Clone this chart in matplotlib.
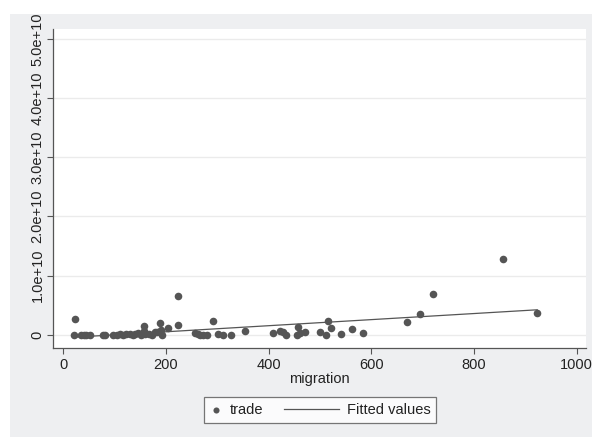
import numpy as np
import matplotlib
matplotlib.use("Agg")
import matplotlib.pyplot as plt
from matplotlib.patches import Rectangle
from matplotlib.lines import Line2D
from matplotlib.legend_handler import HandlerBase

# migration (x) and trade (y, in units of 1e10)
migration = [20, 23, 35, 40, 44, 52, 78, 82, 97, 104, 110, 117, 123, 130, 135,
             140, 146, 152, 157, 158, 160, 167, 172, 178, 183, 188, 190, 192,
             204, 223, 223, 257, 262, 266, 272, 279, 292, 302, 311, 326, 353,
             408, 422, 428, 433, 455, 458, 461, 470, 500, 511, 516, 521, 541,
             562, 584, 669, 694, 721, 856, 923]
trade_e10 = [0.0, 0.26, 0.0, 0.0, 0.0, 0.0, 0.0, 0.0, 0.0, 0.0, 0.01, 0.0, 0.01,
             0.02, 0.0, 0.01, 0.03, 0.0, 0.14, 0.06, 0.01, 0.02, 0.0, 0.04, 0.05,
             0.2, 0.08, 0.0, 0.12, 0.66, 0.17, 0.03, 0.01, 0.0, 0.0, 0.0, 0.24,
             0.01, 0.0, 0.0, 0.06, 0.03, 0.07, 0.04, 0.0, 0.0, 0.13, 0.03, 0.05,
             0.05, 0.0, 0.24, 0.12, 0.02, 0.09, 0.03, 0.21, 0.35, 0.69, 1.28, 0.36]

xticks = [0, 200, 400, 600, 800, 1000]
yticks = [0, 1e10, 2e10, 3e10, 4e10, 5e10]
ylabels = ["0", "1.0e+10", "2.0e+10", "3.0e+10", "4.0e+10", "5.0e+10"]

x = np.array(migration, dtype=float)
y = np.array(trade_e10) * 1e10

# linear fit like Stata's lfit
b, a = np.polyfit(x, y, 1)
xf = np.array([x.min(), x.max()])
yf = a + b * xf

plt.rcParams['font.family'] = ['Liberation Sans', 'DejaVu Sans']
dark = '#555555'
fs = 10.5

fig = plt.figure(figsize=(5.92, 4.37), dpi=100)
fig.patch.set_facecolor('white')
fig.patches.append(Rectangle((10 / 592, 0), 1, (437 - 14) / 437,
                             transform=fig.transFigure, facecolor='#eeeff1',
                             edgecolor='none', zorder=-10))

ax = fig.add_axes([53 / 592, (437 - 348) / 437, 533 / 592, 319 / 437])
ax.set_facecolor('white')

ax.scatter(x, y, s=30, color=dark, linewidths=0, zorder=3, label='trade')
ax.plot(xf, yf, color=dark, lw=0.9, zorder=2, label='Fitted values')

ax.set_xlim(-20, 1018)
ax.set_ylim(-0.225e10, 5.17e10)
ax.set_xticks(xticks)
ax.set_yticks(yticks)
ax.set_yticklabels(ylabels, rotation=90, va='center')
ax.yaxis.grid(True, color='#ebebeb', lw=1)
ax.set_axisbelow(True)

for s in ['top', 'right']:
    ax.spines[s].set_visible(False)
for s in ['left', 'bottom']:
    ax.spines[s].set_color(dark)
    ax.spines[s].set_linewidth(0.9)
ax.tick_params(axis='both', colors=dark, length=4, width=0.8, labelsize=fs,
               labelcolor='#222222')
ax.tick_params(axis='y', pad=2)
ax.tick_params(axis='x', pad=3)
ax.set_xlabel('migration', fontsize=fs, labelpad=0, color='#222222')


class LongLine(HandlerBase):
    def create_artists(self, legend, orig_handle, xdescent, ydescent,
                       width, height, fontsize, trans):
        yy = height / 2 - ydescent
        ln = Line2D([width - xdescent - 3.8 * fontsize, width - xdescent],
                    [yy, yy], color=dark, lw=0.9)
        ln.set_transform(trans)
        return [ln]


handles, labels = ax.get_legend_handles_labels()
leg = fig.legend(handles, labels, loc='center', bbox_to_anchor=(320 / 592, 27 / 437),
                 ncol=2, fontsize=fs, frameon=True, fancybox=False,
                 handlelength=0.9, handletextpad=0.5, columnspacing=4.3,
                 scatterpoints=1, borderpad=0.4, markerscale=0.8,
                 handler_map={Line2D: LongLine()})
leg.get_frame().set_edgecolor(dark)
leg.get_frame().set_linewidth(0.9)
for t in leg.get_texts():
    t.set_color('#222222')

fig.savefig('out.png', dpi=100)
